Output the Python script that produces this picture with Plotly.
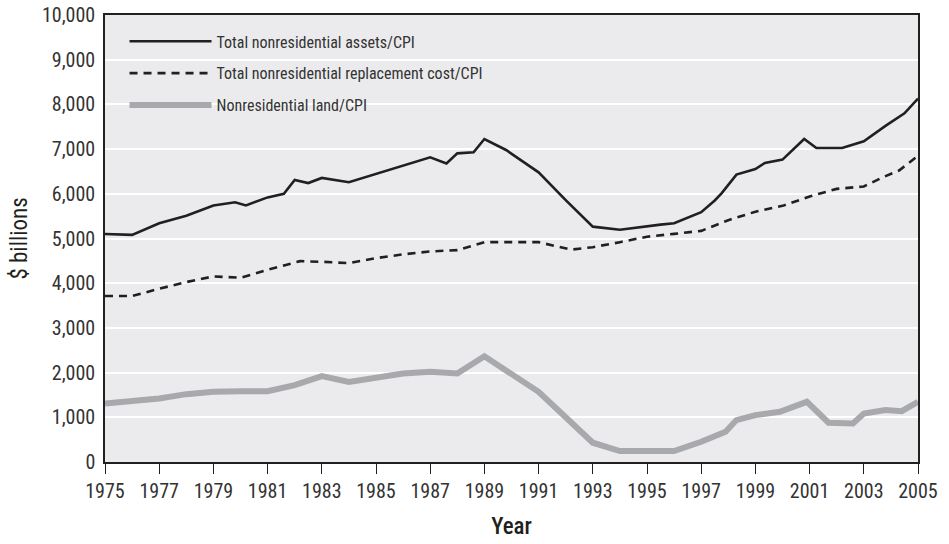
import plotly.graph_objects as go

# ---- data ----
assets_year = [1975, 1976, 1977, 1978, 1979, 1979.8, 1980.2, 1981, 1981.6, 1982, 1982.5, 1983,
               1984, 1985, 1986, 1987, 1987.6, 1988, 1988.6, 1989, 1989.8, 1991, 1992, 1993,
               1994, 1994.7, 1995.5, 1996, 1997, 1997.5, 1997.75, 1998.3, 1999, 1999.35, 2000,
               2000.8, 2001.25, 2002.2, 2003, 2003.8, 2004.5, 2005]
assets_val = [5100, 5080, 5340, 5510, 5740, 5810, 5740, 5920, 6000, 6310, 6240, 6355,
              6260, 6450, 6630, 6815, 6680, 6905, 6930, 7225, 6980, 6480, 5860, 5265,
              5195, 5255, 5310, 5340, 5590, 5850, 6010, 6430, 6555, 6690, 6765,
              7225, 7025, 7025, 7175, 7520, 7800, 8130]

repl_year = [1975, 1976, 1977, 1978, 1979, 1980, 1981, 1982.2, 1983, 1984, 1985, 1986, 1987,
             1988, 1989, 1990, 1991, 1992.2, 1993, 1994, 1995, 1996, 1997, 1998, 1999, 2000,
             2001, 2002, 2002.6, 2003, 2003.7, 2004.3, 2005]
repl_val = [3713, 3713, 3876, 4025, 4152, 4122, 4300, 4494, 4479, 4449, 4560, 4645, 4710,
            4740, 4918, 4918, 4918, 4750, 4806, 4918, 5040, 5104, 5170, 5410, 5600, 5730,
            5940, 6110, 6146, 6165, 6370, 6520, 6850]

land_year = [1975, 1977, 1978, 1979, 1980, 1981, 1982, 1983, 1984, 1985, 1986, 1987, 1988,
             1989, 1990, 1991, 1992, 1993, 1994, 1995, 1996, 1997, 1997.9, 1998.3, 1999,
             1999.9, 2000.9, 2001.7, 2002.6, 2003, 2003.8, 2004.4, 2005]
land_val = [1310, 1421, 1518, 1570, 1585, 1585, 1719, 1920, 1793, 1870, 1979, 2016, 1979,
            2366, 1979, 1570, 1000, 431, 246, 246, 246, 453, 677, 938, 1049,
            1124, 1346, 878, 863, 1086, 1161, 1138, 1346]

names = ["Total nonresidential assets/CPI",
         "Total nonresidential replacement cost/CPI",
         "Nonresidential land/CPI"]

x_ticks = list(range(1975, 2006, 2))
y_ticks = list(range(0, 10001, 1000))

FONT = "'Roboto Condensed', 'Liberation Sans Narrow', 'DejaVu Sans Condensed', 'Arial Narrow', sans-serif"
INK = "#231f20"
TXT = "#333333"

fig = go.Figure()
fig.add_trace(go.Scatter(x=assets_year, y=assets_val, mode="lines", name=names[0],
                         legendgroup="a", line=dict(color=INK, width=2.6)))
fig.add_trace(go.Scatter(x=repl_year, y=repl_val, mode="lines", name=names[1],
                         legendgroup="b", line=dict(color=INK, width=2.6, dash="8px,6px")))
fig.add_trace(go.Scatter(x=land_year, y=land_val, mode="lines", name=names[2],
                         legendgroup="c", line=dict(color="#a7a9ac", width=6)))

fig.update_layout(
    width=949, height=544,
    margin=dict(l=105, r=31, t=15, b=82, autoexpand=False),
    paper_bgcolor="white",
    plot_bgcolor="#ebebed",
    font=dict(family=FONT, size=18, color=TXT),
    showlegend=True,
    legend=dict(x=0.024, y=0.979, xanchor="left", yanchor="top",
                bgcolor="rgba(0,0,0,0)", borderwidth=0,
                font=dict(family=FONT, size=16, color=TXT),
                itemwidth=82, tracegroupgap=8),
    xaxis=dict(range=[1975, 2005], tickvals=x_ticks, ticktext=[str(v) for v in x_ticks],
               showgrid=False, zeroline=False, automargin=False,
               showline=True, linecolor=INK, linewidth=1.5, mirror=True,
               ticks="outside", ticklen=10, tickwidth=1.2, tickcolor=INK,
               tickfont=dict(family=FONT, size=20, color=TXT),
               title=dict(text="Year", font=dict(family=FONT, size=23, color=INK, weight=500),
                          standoff=16)),
    yaxis=dict(range=[0, 10000], tickvals=y_ticks, tickformat=",d",
               showgrid=True, gridcolor="white", gridwidth=1.5, zeroline=False, automargin=False,
               showline=True, linecolor=INK, linewidth=1.5, mirror=True,
               ticks="", ticklabelstandoff=4,
               tickfont=dict(family=FONT, size=20, color=TXT),
               title=dict(text="$ billions", font=dict(family=FONT, size=23, color=INK, weight=400),
                          standoff=8)),
)

fig.write_html("out.html", config={"displayModeBar": False},
               post_script="document.body.style.margin='0';")
